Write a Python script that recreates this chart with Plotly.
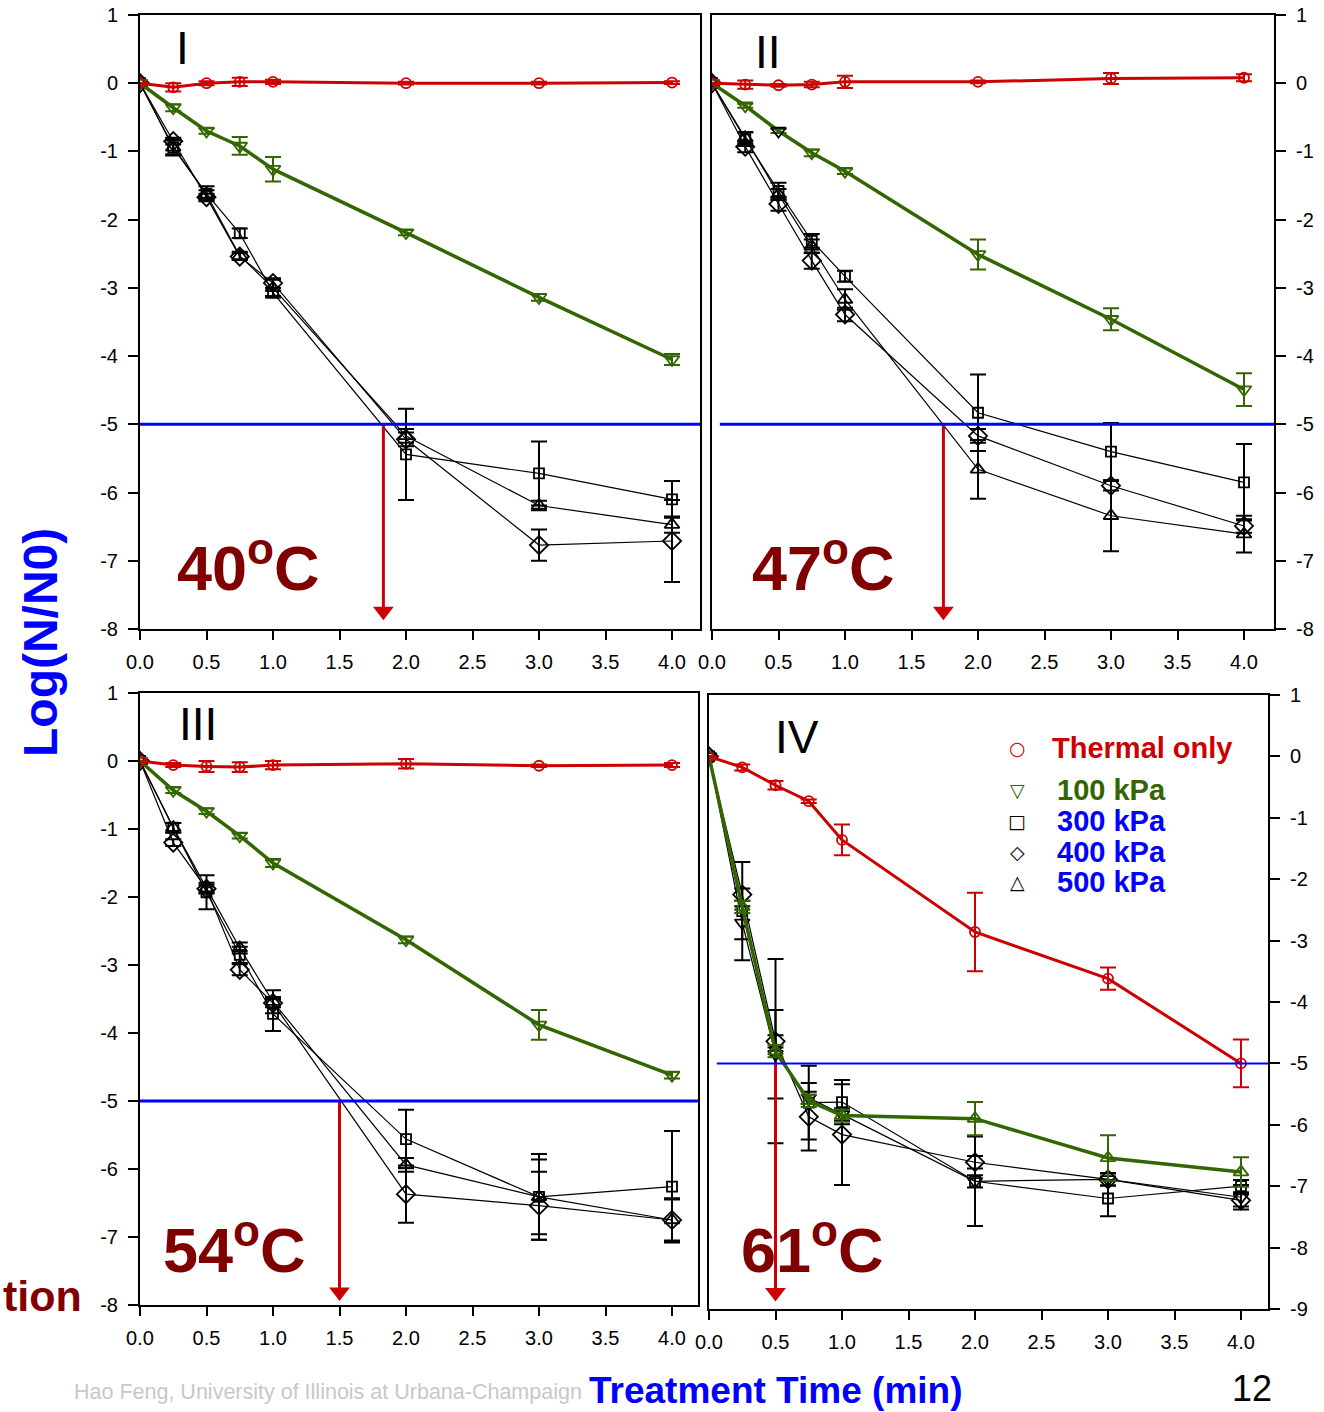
import plotly.graph_objects as go

W, H = 1324, 1412
FONT = "Liberation Sans"

# ---------------- data ----------------
time_min = [0, 0.25, 0.5, 0.75, 1.0, 2.0, 3.0, 4.0]
series_names = ["Thermal only", "100 kPa", "300 kPa", "400 kPa", "500 kPa"]

# Panel I, 40 C
thermal_40 = [0, -0.06, 0.0, 0.02, 0.02, 0.0, 0.0, 0.01]
thermal_40_err = [0, 0.06, 0.03, 0.06, 0.03, 0.02, 0.02, 0.02]
kpa100_40 = [0, -0.36, -0.70, -0.92, -1.26, -2.19, -3.14, -4.05]
kpa100_40_err = [0, 0.05, 0.04, 0.13, 0.18, 0.04, 0.05, 0.08]
kpa300_40 = [0, -0.94, -1.62, -2.20, -3.07, -5.44, -5.72, -6.10]
kpa300_40_err = [0, 0.12, 0.11, 0.07, 0.07, 0.67, 0.47, 0.27]
kpa400_40 = [0, -0.85, -1.67, -2.54, -2.93, -5.22, -6.77, -6.71]
kpa400_40_err = [0, 0.05, 0.05, 0.05, 0.07, 0.10, 0.23, 0.60]
kpa500_40 = [0, -0.94, -1.63, -2.53, -3.00, -5.17, -6.19, -6.47]
kpa500_40_err = [0, 0.10, 0.06, 0.06, 0.12, 0.10, 0.07, 0.12]

# Panel II, 47 C
thermal_47 = [0, -0.02, -0.03, -0.02, 0.02, 0.02, 0.07, 0.08]
thermal_47_err = [0, 0.06, 0.02, 0.04, 0.09, 0.02, 0.08, 0.05]
kpa100_47 = [0, -0.33, -0.70, -1.02, -1.29, -2.51, -3.46, -4.49]
kpa100_47_err = [0, 0.03, 0.03, 0.05, 0.04, 0.22, 0.16, 0.24]
kpa300_47 = [0, -0.82, -1.58, -2.31, -2.83, -4.83, -5.40, -5.85]
kpa300_47_err = [0, 0.10, 0.12, 0.10, 0.08, 0.56, 0.42, 0.56]
kpa400_47 = [0, -0.93, -1.77, -2.60, -3.39, -5.17, -5.90, -6.49]
kpa400_47_err = [0, 0.08, 0.10, 0.12, 0.10, 0.10, 0.07, 0.10]
kpa500_47 = [0, -0.80, -1.63, -2.39, -3.17, -5.66, -6.34, -6.61]
kpa500_47_err = [0, 0.08, 0.08, 0.10, 0.15, 0.43, 0.52, 0.27]

# Panel III, 54 C
thermal_54 = [0, -0.06, -0.08, -0.09, -0.06, -0.04, -0.07, -0.06]
thermal_54_err = [0, 0.03, 0.08, 0.07, 0.06, 0.07, 0.02, 0.03]
kpa100_54 = [0, -0.43, -0.74, -1.10, -1.50, -2.63, -3.88, -4.62]
kpa100_54_err = [0, 0.04, 0.04, 0.04, 0.06, 0.05, 0.22, 0.05]
kpa300_54 = [0, -0.98, -1.93, -2.85, -3.72, -5.56, -6.41, -6.26]
kpa300_54_err = [0, 0.07, 0.25, 0.12, 0.25, 0.43, 0.63, 0.82]
kpa400_54 = [0, -1.20, -1.88, -3.07, -3.56, -6.37, -6.54, -6.75]
kpa400_54_err = [0, 0.05, 0.06, 0.08, 0.06, 0.42, 0.50, 0.30]
kpa500_54 = [0, -0.98, -1.87, -2.75, -3.54, -5.94, -6.41, -6.75]
kpa500_54_err = [0, 0.07, 0.08, 0.08, 0.17, 0.10, 0.55, 0.32]

# Panel IV, 61 C
thermal_61 = [0, -0.18, -0.47, -0.73, -1.36, -2.86, -3.62, -5.00]
thermal_61_err = [0, 0.05, 0.07, 0.03, 0.25, 0.64, 0.18, 0.39]
kpa100_61 = [0, -2.45, -4.80, -5.61, -5.85, -5.90, -6.54, -6.77]
kpa100_61_err = [0, 0.10, 0.10, 0.10, 0.10, 0.27, 0.37, 0.24]
kpa300_61 = [0, -2.52, -4.80, -5.64, -5.63, -6.92, -7.20, -7.00]
kpa300_61_err = [0, 0.80, 1.50, 0.60, 0.36, 0.73, 0.29, 0.10]
kpa400_61 = [0, -2.25, -4.64, -5.87, -6.16, -6.61, -6.89, -7.23]
kpa400_61_err = [0, 0.10, 0.10, 0.55, 0.82, 0.10, 0.10, 0.10]
kpa500_61 = [0, -2.71, -4.85, -5.56, -5.83, -6.92, -6.89, -7.18]
kpa500_61_err = [0, 0.27, 0.72, 0.10, 0.10, 0.10, 0.10, 0.20]

# 5-log reduction level and the time at which each curve reaches it
target_log = -5
time_to_target = [1.83, 1.74, 1.50, 0.50]
temperatures = ["40", "47", "54", "61"]
panel_labels = ["I", "II", "III", "IV"]

x_ticks = [0, 0.5, 1.0, 1.5, 2.0, 2.5, 3.0, 3.5, 4.0]
x_ticktext = ["0.0", "0.5", "1.0", "1.5", "2.0", "2.5", "3.0", "3.5", "4.0"]

# ---------------- styles ----------------
RED = "#cc0000"
GREEN = "#336600"
BLUE = "#0000ff"
DARKRED = "#800000"

def px_x(p):
    return p / W

def px_y(p):
    return 1 - p / H

panel_data = [
    [(thermal_40, thermal_40_err), (kpa100_40, kpa100_40_err), (kpa300_40, kpa300_40_err),
     (kpa400_40, kpa400_40_err), (kpa500_40, kpa500_40_err)],
    [(thermal_47, thermal_47_err), (kpa100_47, kpa100_47_err), (kpa300_47, kpa300_47_err),
     (kpa400_47, kpa400_47_err), (kpa500_47, kpa500_47_err)],
    [(thermal_54, thermal_54_err), (kpa100_54, kpa100_54_err), (kpa300_54, kpa300_54_err),
     (kpa400_54, kpa400_54_err), (kpa500_54, kpa500_54_err)],
    [(thermal_61, thermal_61_err), (kpa100_61, kpa100_61_err), (kpa300_61, kpa300_61_err),
     (kpa400_61, kpa400_61_err), (kpa500_61, kpa500_61_err)],
]

# pixel frame of each panel: left, right, top, bottom, y range, y-axis side
frames = [
    dict(l=140, r=700, t=15, b=629, yr=(-8, 1), side="left"),
    dict(l=712, r=1274, t=15, b=629, yr=(-8, 1), side="right"),
    dict(l=140, r=698, t=693, b=1305, yr=(-8, 1), side="left"),
    dict(l=709, r=1268, t=695, b=1309, yr=(-9, 1), side="right"),
]
PX_PER_MIN = 133.0
# where the arrowheads sit (centre of the head) on each log axis
arrow_head_at = [-7.74, -7.74, -7.81, -8.73]

def style_for(panel_idx, s_idx):
    base = [
        dict(color=RED, lw=3, sym="circle-open", ms=10),
        dict(color=GREEN, lw=3.5, sym="triangle-down-open", ms=13),
        dict(color="black", lw=1.2, sym="square-open", ms=10),
        dict(color="black", lw=1.2, sym="diamond-open", ms=14),
        dict(color="black", lw=1.2, sym="triangle-up-open", ms=13),
    ][s_idx]
    st = dict(base)
    st["mcolor"] = st["color"]
    if panel_idx == 1 and s_idx == 1:
        # the 0.5 min point of this series is printed in black
        st["mcolor"] = [GREEN, GREEN, "black", GREEN, GREEN, GREEN, GREEN, GREEN]
    if panel_idx == 3 and s_idx == 1:
        st["sym"] = "triangle-up-open"
    if panel_idx == 3 and s_idx == 4:
        st["sym"] = "triangle-down-open"
    return st

fig = go.Figure()
layout_axes = {}
annotations = []
shapes = []

for p, fr in enumerate(frames):
    suffix = "" if p == 0 else str(p + 1)
    xname, yname = "x" + suffix, "y" + suffix
    xmax = (fr["r"] - fr["l"]) / PX_PER_MIN
    draw_order = [2, 3, 4, 1, 0]
    for s in draw_order:
        vals, errs = panel_data[p][s]
        st = style_for(p, s)
        fig.add_trace(go.Scatter(
            x=time_min, y=vals, name=series_names[s], xaxis=xname, yaxis=yname,
            mode="lines+markers", showlegend=False,
            line=dict(color=st["color"], width=st["lw"]),
            marker=dict(symbol=st["sym"], size=st["ms"], color=st["mcolor"],
                        line=dict(color=st["mcolor"], width=1.8)),
            error_y=dict(type="data", array=errs, color=st["color"], thickness=2, width=8),
        ))

    # red arrow from the 5-log line down to the time axis
    t5 = time_to_target[p]
    fig.add_trace(go.Scatter(
        x=[t5, t5], y=[target_log, arrow_head_at[p]], xaxis=xname, yaxis=yname,
        mode="lines+markers", showlegend=False, hoverinfo="skip",
        line=dict(color=RED, width=3),
        marker=dict(symbol="triangle-down", size=[0, 18], color=RED, opacity=1,
                    line=dict(width=0)),
    ))

    ylo, yhi = fr["yr"]
    yticks = list(range(ylo, yhi + 1))
    layout_axes["xaxis" + suffix] = dict(
        domain=[px_x(fr["l"]), px_x(fr["r"])], range=[0, xmax], anchor=yname,
        tickmode="array", tickvals=x_ticks, ticktext=x_ticktext,
        ticks="outside", ticklen=9, tickwidth=2, tickcolor="black",
        showline=True, linewidth=2, linecolor="black", mirror=True,
        showgrid=False, zeroline=False, ticklabelstandoff=5, automargin=False,
        tickfont=dict(family=FONT, size=20, color="black"),
    )
    layout_axes["yaxis" + suffix] = dict(
        domain=[px_y(fr["b"]), px_y(fr["t"])], range=[ylo, yhi], anchor=xname,
        side=fr["side"], tickmode="array", tickvals=yticks,
        ticktext=[str(v) for v in yticks],
        ticks="outside", ticklen=10, tickwidth=2, tickcolor="black",
        showline=True, linewidth=2, linecolor="black", mirror=True,
        showgrid=False, zeroline=False, ticklabelstandoff=6, automargin=False,
        tickfont=dict(family=FONT, size=20, color="black"),
    )

    # 5-log reduction line
    shapes.append(dict(type="line", xref=xname + " domain", yref=yname,
                       x0=0.0 if p in (0, 2) else 0.014, x1=1.0,
                       y0=target_log, y1=target_log,
                       line=dict(color=BLUE, width=3 if p < 3 else 2)))

fig.update_layout(**layout_axes)

# panel numerals and temperatures
numeral_pos = [(183, 48), (768, 52), (198, 724), (797, 737)]
temp_pos = [(175, 563), (750, 563), (161, 1245), (739, 1245)]
for p in range(4):
    nx, ny = numeral_pos[p]
    annotations.append(dict(text=panel_labels[p], x=px_x(nx), y=px_y(ny), xref="paper", yref="paper",
                            showarrow=False, xanchor="center", yanchor="middle",
                            font=dict(family=FONT, size=46, color="black")))
    tx, ty = temp_pos[p]
    annotations.append(dict(text="<b>" + temperatures[p] + "<sup>o</sup>C</b>",
                            x=px_x(tx), y=px_y(ty), xref="paper", yref="paper",
                            showarrow=False, xanchor="left", yanchor="middle",
                            font=dict(family=FONT, size=63, color=DARKRED)))

# legend inside panel IV
legend_rows = [
    ("○", "Thermal only", RED, RED, 748),
    ("▽", "100 kPa", GREEN, GREEN, 790),
    ("□", "300 kPa", "black", BLUE, 821),
    ("◇", "400 kPa", "black", BLUE, 852),
    ("△", "500 kPa", "black", BLUE, 882),
]
for sym, label, scol, tcol, yy in legend_rows:
    annotations.append(dict(text=sym, x=px_x(1017), y=px_y(yy), xref="paper", yref="paper",
                            showarrow=False, xanchor="center", yanchor="middle",
                            font=dict(family="DejaVu Sans", size=19, color=scol)))
    annotations.append(dict(text="<b>" + label + "</b>", x=px_x(1055 if label != "Thermal only" else 1050),
                            y=px_y(yy), xref="paper", yref="paper",
                            showarrow=False, xanchor="left", yanchor="middle",
                            font=dict(family=FONT, size=29, color=tcol)))

# axis titles and page text
annotations += [
    dict(text="<b>Log(N/N0)</b>", x=px_x(40), y=px_y(643), xref="paper", yref="paper",
         showarrow=False, textangle=-90, xanchor="center", yanchor="middle",
         font=dict(family=FONT, size=48, color=BLUE)),
    dict(text="<b>Treatment Time (min)</b>", x=px_x(776), y=px_y(1390), xref="paper", yref="paper",
         showarrow=False, xanchor="center", yanchor="middle",
         font=dict(family=FONT, size=37, color=BLUE)),
    dict(text="<b>tion</b>", x=px_x(1), y=px_y(1296), xref="paper", yref="paper",
         showarrow=False, xanchor="left", yanchor="middle",
         font=dict(family=FONT, size=43, color=DARKRED)),
    dict(text="Hao Feng, University of Illinois at Urbana-Champaign", x=px_x(72), y=px_y(1392),
         xref="paper", yref="paper", showarrow=False, xanchor="left", yanchor="middle",
         font=dict(family=FONT, size=21.5, color="#c8c8c8")),
    dict(text="12", x=px_x(1252), y=px_y(1388), xref="paper", yref="paper",
         showarrow=False, xanchor="center", yanchor="middle",
         font=dict(family=FONT, size=36, color="black")),
]

fig.update_layout(
    width=W, height=H, autosize=False,
    margin=dict(l=0, r=0, t=0, b=0, pad=0),
    paper_bgcolor="white", plot_bgcolor="white",
    showlegend=False,
    annotations=annotations, shapes=shapes,
    font=dict(family=FONT),
)

fig.write_html("out.html")
